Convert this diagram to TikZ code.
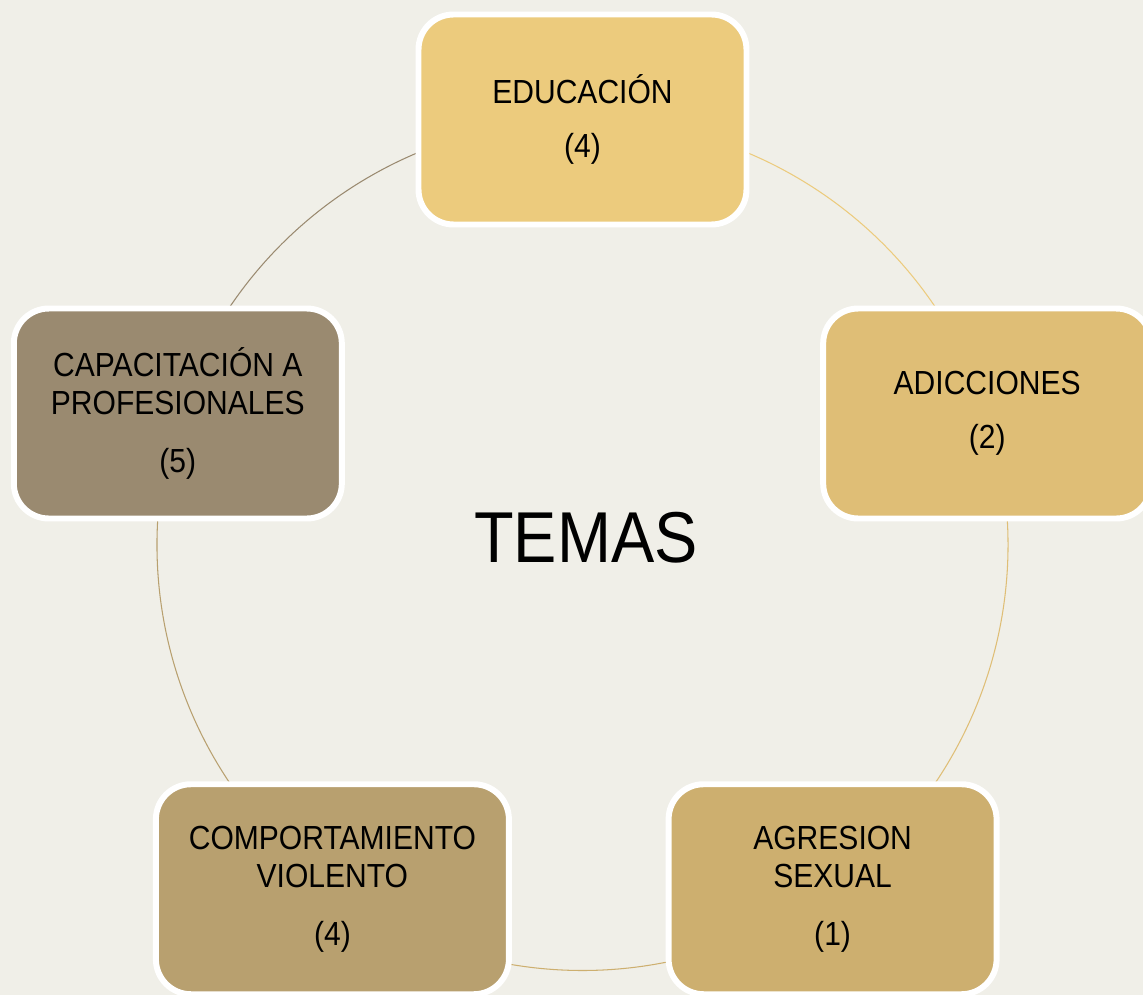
\documentclass[tikz,border=0pt]{standalone}
\usepackage{fontspec}
\setmainfont{Liberation Sans}[FakeStretch=0.9]
\usetikzlibrary{calc, positioning}

\definecolor{fondo}{HTML}{F0EFE8}
\definecolor{colEdu}{HTML}{ECCB7D}
\definecolor{colAdi}{HTML}{DFBE76}
\definecolor{colAgr}{HTML}{CDAF6F}
\definecolor{colCom}{HTML}{B8A06F}
\definecolor{colCap}{HTML}{9A8A70}

\tikzset{
  tema/.style={draw=white, line width=3.4pt, rounded corners=0.7cm,
    minimum width=6.56cm, minimum height=4.2cm, align=center,
    font=\fontsize{19}{22}\selectfont, text=black},
  arco/.style={line width=0.6pt}
}

\begin{document}
\begin{tikzpicture}
      % Fondo
      \fill[fondo] (0,0) rectangle (22.86,-19.9);
      \useasboundingbox (0,0) rectangle (22.86,-19.9);

      % Centro y radio del ciclo
      \pgfmathsetmacro{\rad}{8.51}
      \coordinate (c) at (11.65,-10.9);

      % Arcos del ciclo
      \draw[arco, colEdu] ($(c)+(90:\rad)$) arc[start angle=90, end angle=18, radius=\rad];
      \draw[arco, colAdi] ($(c)+(18:\rad)$) arc[start angle=18, end angle=-54, radius=\rad];
      \draw[arco, colAgr] ($(c)+(-54:\rad)$) arc[start angle=-54, end angle=-126, radius=\rad];
      \draw[arco, colCom] ($(c)+(-126:\rad)$) arc[start angle=-126, end angle=-198, radius=\rad];
      \draw[arco, colCap] ($(c)+(162:\rad)$) arc[start angle=162, end angle=90, radius=\rad];

      % Temas
      \node[tema, fill=colEdu] (edu) at ($(c)+(90:\rad)$) {EDUCACIÓN\\[9pt](4)};
      \node[tema, fill=colAdi] (adi) at ($(c)+(18:\rad)$) {ADICCIONES\\[9pt](2)};
      \node[tema, fill=colAgr] (agr) at ($(c)+(-54:\rad)$) {AGRESION\\SEXUAL\\[11pt](1)};
      \node[tema, fill=colCom, minimum width=7.06cm] (com) at ($(c)+(-126:\rad)$)
        {COMPORTAMIENTO\\VIOLENTO\\[11pt](4)};
      \node[tema, fill=colCap] (cap) at ($(c)+(162:\rad)$)
        {CAPACITACIÓN A\\PROFESIONALES\\[11pt](5)};

      % Título central
      \node[font=\fontsize{41}{48}\selectfont] (temas) at (11.72,-10.75) {TEMAS};
\end{tikzpicture}
\end{document}
